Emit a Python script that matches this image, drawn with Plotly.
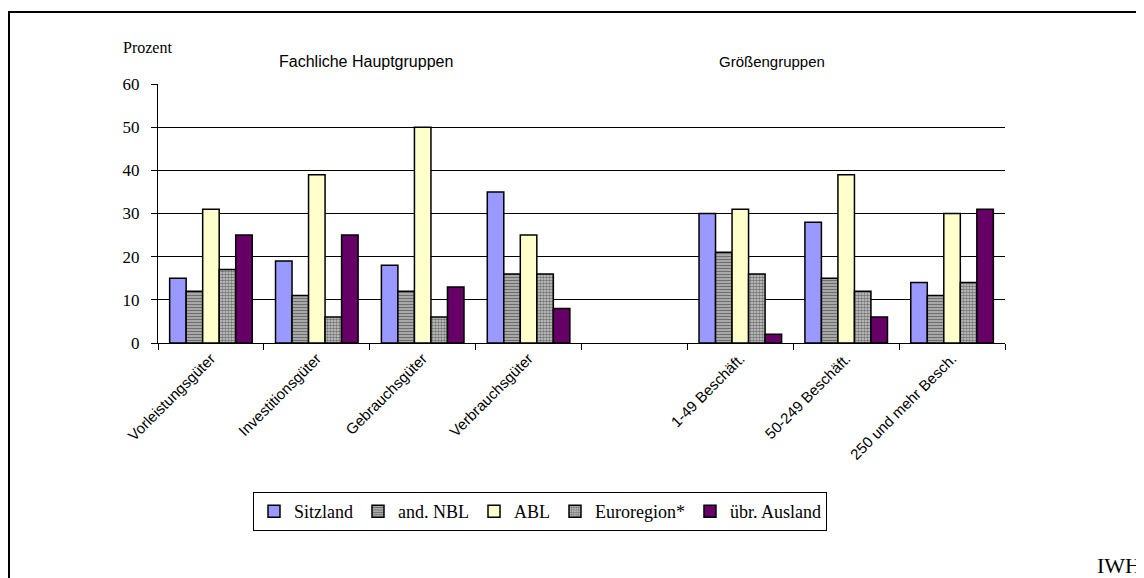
import plotly.graph_objects as go

categories = ["Vorleistungsgüter", "Investitionsgüter", "Gebrauchsgüter", "Verbrauchsgüter", " ",
              "1-49 Beschäft.", "50-249 Beschäft.", "250 und mehr Besch."]
sitzland = [15, 19, 18, 35, None, 30, 28, 14]
and_nbl = [12, 11, 12, 16, None, 21, 15, 11]
abl = [31, 39, 50, 25, None, 31, 39, 30]
euroregion = [17, 6, 6, 16, None, 16, 12, 14]
uebr_ausland = [25, 25, 13, 8, None, 2, 6, 31]
y_ticks = [0, 10, 20, 30, 40, 50, 60]

# the page body has an 8px margin; figure coordinates = reference - 8
OFF = 8
W, H = 1144 - OFF, 578 - OFF
L, R, T, B = 158 - OFF, 1005 - OFF, 84 - OFF, 343 - OFF

def px(x):
    return (x - OFF - L) / (R - L)

def py(y):
    return (B - (y - OFF)) / (B - T)

serif = "Liberation Serif, Times New Roman, serif"
sans = "Liberation Sans, Arial, sans-serif"

series = [
    ("Sitzland", sitzland, dict(color="#9999FF")),
    ("and. NBL", and_nbl, dict(color="#A0A0A0", pattern=dict(shape="-", fgcolor="#262626", bgcolor="#B4B4B4", size=3, solidity=0.45))),
    ("ABL", abl, dict(color="#FFFFCC")),
    ("Euroregion*", euroregion, dict(color="#999999", pattern=dict(shape=".", fgcolor="#1a1a1a", bgcolor="#D0D0D0", size=3, solidity=0.6))),
    ("übr. Ausland", uebr_ausland, dict(color="#660066")),
]

fig = go.Figure()
for name, vals, m in series:
    marker = dict(m)
    marker["line"] = dict(color="black", width=1.5)
    fig.add_trace(go.Bar(name=name, x=categories, y=vals, marker=marker))

fig.update_layout(
    width=W, height=H,
    margin=dict(l=L, r=W - R, t=T, b=H - B, autoexpand=False),
    paper_bgcolor="white", plot_bgcolor="white",
    barmode="group", bargap=0.22, bargroupgap=0,
    showlegend=True,
    legend=dict(orientation="h", x=px(540), xanchor="center", y=py(492), yanchor="top",
                bordercolor="black", borderwidth=1, font=dict(family=serif, size=18, color="black"),
                itemwidth=30, traceorder="normal", tracegroupgap=0),
    xaxis=dict(type="category", tickson="boundaries", ticks="outside", ticklen=6, tickcolor="black",
               showline=True, linecolor="black", linewidth=1, tickangle=-45,
               tickfont=dict(family=sans, size=15, color="black"), showgrid=False),
    yaxis=dict(range=[0, 60], tickvals=y_ticks, ticks="outside", ticklen=6, tickcolor="black",
               showline=True, linecolor="black", linewidth=1, showgrid=True, gridcolor="black",
               gridwidth=1, zeroline=False, ticklabelstandoff=8,
               tickfont=dict(family=serif, size=17, color="black")),
)

annos = [
    dict(text="Prozent", x=px(147), y=py(47), font=dict(family=serif, size=16)),
    dict(text="Fachliche Hauptgruppen", x=px(366), y=py(62), font=dict(family=sans, size=16)),
    dict(text="Größengruppen", x=px(772), y=py(62), font=dict(family=sans, size=15)),
]
for a in annos:
    fig.add_annotation(xref="paper", yref="paper", x=a["x"], y=a["y"], text=a["text"], showarrow=False,
                       xanchor="center", yanchor="middle", font=dict(color="black", **a["font"]))
fig.add_annotation(xref="paper", yref="paper", x=px(1095), y=py(565), text="IWH", showarrow=False,
                   xanchor="left", yanchor="middle", font=dict(family=serif, size=22, color="black"))

# outer frame (left and top lines)
fig.add_shape(type="line", xref="paper", yref="paper", x0=px(9), x1=px(9), y0=py(12), y1=py(590),
              line=dict(color="black", width=2))
fig.add_shape(type="line", xref="paper", yref="paper", x0=px(8), x1=px(1160), y0=py(12), y1=py(12),
              line=dict(color="black", width=2))

fig.write_html("out.html")
